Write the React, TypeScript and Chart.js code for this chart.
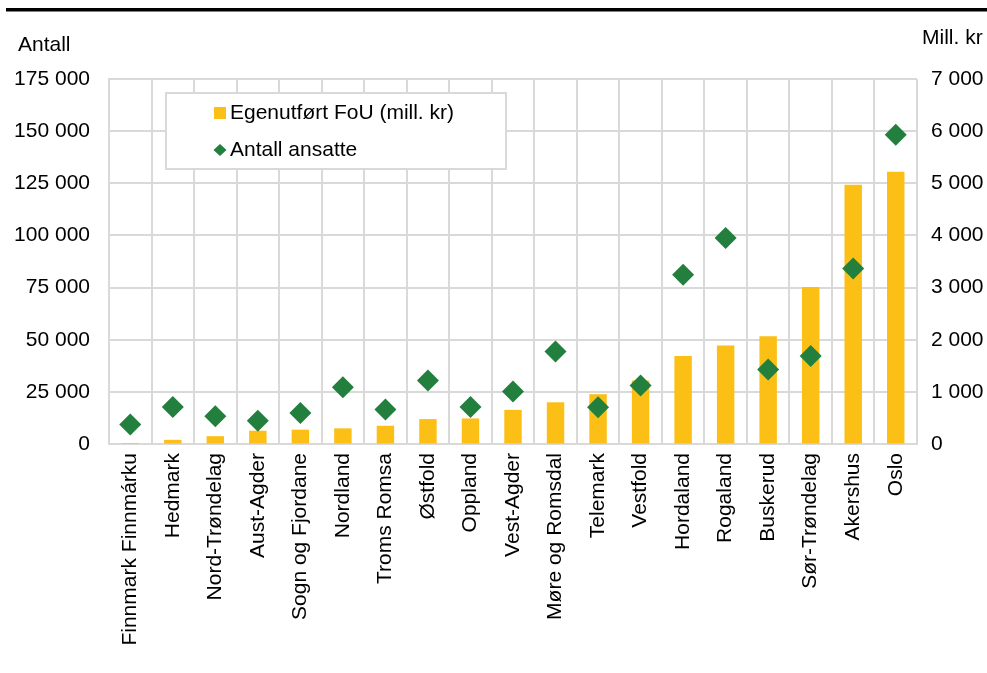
import React, { useEffect, useRef } from "react";
import { Chart, registerables } from "chart.js";

Chart.register(...registerables);

const categories = [
  "Finnmark Finnmárku",
  "Hedmark",
  "Nord-Trøndelag",
  "Aust-Agder",
  "Sogn og Fjordane",
  "Nordland",
  "Troms Romsa",
  "Østfold",
  "Oppland",
  "Vest-Agder",
  "Møre og Romsdal",
  "Telemark",
  "Vestfold",
  "Hordaland",
  "Rogaland",
  "Buskerud",
  "Sør-Trøndelag",
  "Akershus",
  "Oslo",
];

const fouMillKr = [20, 80, 150, 255, 275, 300, 350, 478, 490, 655, 800, 955, 1220, 1690, 1890, 2065, 3010, 4970, 5220];

const antallAnsatte = [9300, 17750, 13250, 11200, 14900, 27200, 16500, 30400, 17750, 25200, 44300, 17600, 28000, 81200, 98800, 35700, 42200, 84100, 148300];

const seriesLabels = ["Egenutført FoU (mill. kr)", "Antall ansatte"];
const leftTitle = "Antall";
const rightTitle = "Mill. kr";

const BAR_COLOR = "#FBBF16";
const DIAMOND_COLOR = "#237F3D";
const GRID_COLOR = "#D9D9D9";
const FONT = "'Liberation Sans', Arial, sans-serif";

const fmt = (v: number) => String(v).replace(/\B(?=(\d{3})+(?!\d))/g, " ");

const decorPlugin = {
  id: "decor",
  afterDraw(chart: any) {
    const ctx = chart.ctx as CanvasRenderingContext2D;
    ctx.save();
    // top rule
    ctx.fillStyle = "#000";
    ctx.fillRect(6, 8, 981, 3.5);
    // axis titles
    ctx.font = `21px ${FONT}`;
    ctx.fillStyle = "#000";
    ctx.textBaseline = "middle";
    ctx.textAlign = "left";
    ctx.fillText(leftTitle, 18, 45);
    ctx.fillText(rightTitle, 922, 38);
    // legend box
    const ds = chart.data.datasets;
    ctx.fillStyle = "#fff";
    ctx.fillRect(166, 93, 340, 76);
    ctx.strokeStyle = GRID_COLOR;
    ctx.lineWidth = 2;
    ctx.strokeRect(166, 93, 340, 76);
    // item 1: square
    ctx.fillStyle = BAR_COLOR;
    ctx.fillRect(214, 107, 12, 12);
    ctx.fillStyle = "#000";
    ctx.fillText(ds[0].label, 230, 113);
    // item 2: diamond
    ctx.fillStyle = DIAMOND_COLOR;
    ctx.beginPath();
    ctx.moveTo(220, 144);
    ctx.lineTo(226.5, 150);
    ctx.lineTo(220, 156);
    ctx.lineTo(213.5, 150);
    ctx.closePath();
    ctx.fill();
    ctx.fillStyle = "#000";
    ctx.fillText(ds[1].label, 230, 150);
    ctx.restore();
  },
};

export default function App() {
  const ref = useRef<HTMLCanvasElement | null>(null);

  useEffect(() => {
    if (!ref.current) return;
    const chart = new Chart(ref.current, {
      type: "bar",
      data: {
        labels: categories,
        datasets: [
          {
            type: "bar",
            label: seriesLabels[0],
            data: fouMillKr,
            backgroundColor: BAR_COLOR,
            yAxisID: "y1",
            categoryPercentage: 1,
            barPercentage: 0.41,
            order: 1,
          },
          {
            type: "line",
            label: seriesLabels[1],
            data: antallAnsatte,
            showLine: false,
            pointStyle: "rectRot",
            pointRadius: 11,
            pointBackgroundColor: DIAMOND_COLOR,
            pointBorderColor: DIAMOND_COLOR,
            pointBorderWidth: 0,
            yAxisID: "y",
            order: 0,
          } as any,
        ],
      },
      options: {
        responsive: false,
        animation: false,
        layout: { padding: { top: 79, left: 0, right: 0, bottom: 0 } },
        plugins: {
          legend: { display: false },
          tooltip: { enabled: false },
          title: { display: false },
        },
        scales: {
          x: {
            offset: true,
            grid: { color: GRID_COLOR, lineWidth: 2, drawTicks: false, offset: true },
            border: { color: GRID_COLOR, width: 2 },
            ticks: {
              autoSkip: false,
              maxRotation: 90,
              minRotation: 90,
              padding: 9,
              color: "#000",
              font: { family: FONT, size: 21 },
            },
            afterFit: (s: any) => {
              s.height = 229;
            },
          },
          y: {
            position: "left",
            min: 0,
            max: 175000,
            grid: { color: GRID_COLOR, lineWidth: 2, drawTicks: false },
            border: { color: GRID_COLOR, width: 2 },
            ticks: {
              stepSize: 25000,
              padding: 19,
              color: "#000",
              font: { family: FONT, size: 21 },
              callback: (v: any) => fmt(Number(v)),
            },
            afterFit: (s: any) => {
              s.width = 109;
            },
          },
          y1: {
            position: "right",
            min: 0,
            max: 7000,
            grid: { drawOnChartArea: false, drawTicks: false },
            border: { display: false },
            ticks: {
              stepSize: 1000,
              padding: 14,
              color: "#000",
              font: { family: FONT, size: 21 },
              callback: (v: any) => fmt(Number(v)),
            },
            afterFit: (s: any) => {
              s.width = 70;
            },
          },
        },
      },
      plugins: [decorPlugin],
    });
    return () => chart.destroy();
  }, []);

  return (
    <div style={{ position: "absolute", left: 0, top: 0, width: 987, height: 673, background: "#fff" }}>
      <canvas ref={ref} width={987} height={673} />
    </div>
  );
}
